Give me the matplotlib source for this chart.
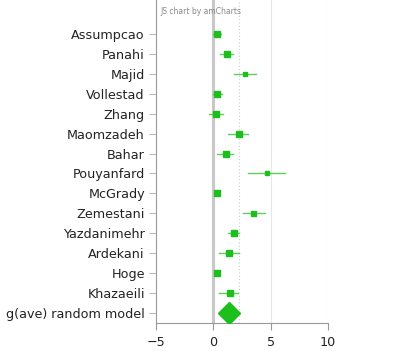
import numpy as np
import matplotlib.pyplot as plt

studies = ["Assumpcao", "Panahi", "Majid", "Vollestad", "Zhang", "Maomzadeh", "Bahar",
           "Pouyanfard", "McGrady", "Zemestani", "Yazdanimehr", "Ardekani", "Hoge",
           "Khazaeili"]
effect = [0.32, 1.19, 2.72, 0.35, 0.20, 2.20, 1.07, 4.64, 0.29, 3.48, 1.77, 1.39, 0.35, 1.42]
lower = [-0.03, 0.60, 1.77, -0.03, -0.40, 1.25, 0.32, 3.00, 0.20, 2.55, 1.30, 0.46, 0.30, 0.52]
upper = [0.70, 1.68, 3.68, 0.75, 0.80, 3.00, 1.74, 6.29, 0.40, 4.50, 2.20, 2.20, 0.40, 2.15]
weight = [5.0, 5.0, 3.5, 5.0, 4.2, 4.2, 4.2, 3.0, 5.0, 3.6, 4.2, 4.0, 4.2, 4.0]
summary_label = "g(ave) random model"
summary_effect = 1.33
guide_value = 2.25

green = "#1dbf1d"
light_green = "#5dcf5d"

fig = plt.figure(figsize=(4.01, 3.51), dpi=100)
ax = fig.add_axes([156 / 401, 1 - 323 / 351, 172 / 401, 323 / 351])

n = len(studies)
ypos = np.arange(n, 0, -1)

ax.axvline(0, color="#c8c8c8", lw=2.2, zorder=1)
for g in [5, 10]:
    ax.axvline(g, color="#e6e6e6", lw=0.8, zorder=0)
ax.axvline(guide_value, color="#cccccc", lw=0.8, ls=(0, (1, 2)), zorder=1)

for y, e, lo, hi, w in zip(ypos, effect, lower, upper, weight):
    ax.plot([lo, hi], [y, y], color=light_green, lw=1.0, zorder=2)
    ax.plot(e, y, marker="s", ms=w, color=green, mec=green, zorder=3)

ax.plot(summary_effect, 0, marker="D", ms=11.5, color=green, mec=green, zorder=3)

ax.set_xlim(-5, 10)
ax.set_ylim(-0.5, n + 1.7)
ax.set_xticks([-5, 0, 5, 10])
ax.set_yticks(list(ypos) + [0])
ax.set_yticklabels(studies + [summary_label])

for s in ["top", "right"]:
    ax.spines[s].set_visible(False)
for s in ["left", "bottom"]:
    ax.spines[s].set_color("#999999")
    ax.spines[s].set_linewidth(0.8)
ax.tick_params(axis="y", length=5, color="#bbbbbb", labelsize=9.2, labelcolor="#222222", pad=3)
ax.tick_params(axis="x", length=5, color="#999999", labelsize=9.2, labelcolor="#222222", pad=4)

fig.text(160 / 401, 1 - 12 / 351, "JS chart by amCharts", fontsize=5.5, color="#888888",
         va="center", ha="left")

fig.savefig("out.png", dpi=100)
